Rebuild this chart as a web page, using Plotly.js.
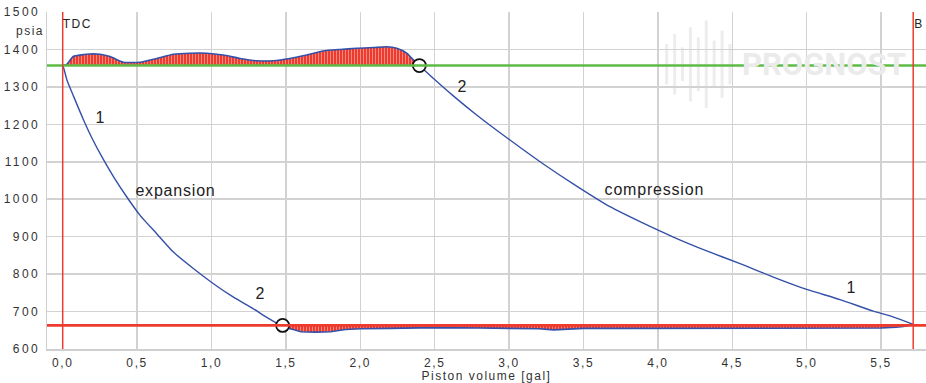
<!DOCTYPE html>
<html>
<head>
<meta charset="utf-8">
<script src="https://cdn.plot.ly/plotly-3.0.1.min.js"></script>
<style>
html,body{margin:0;padding:0;background:#fff}
#chart{width:926px;height:383px}
.xtitle { letter-spacing: 1.5px; }
</style>
</head>
<body>
<div id="chart"></div>
<script>
// Reference pressures (psia) and dead centres (gal)
const dischargePressure = 1357;
const suctionPressure = 663;
const tdcVolume = 0;
const bdcVolume = 5.716;

// Expansion stroke (TDC -> suction valve opening)
const expX = [0, 0.007, 0.029, 0.074, 0.141, 0.197, 0.275, 0.342, 0.431, 0.52, 0.632, 0.744, 0.878, 1.011, 1.145, 1.279, 1.369, 1.447, 1.478];
const expY = [1357, 1350, 1318, 1274, 1211, 1163, 1105, 1060, 1006, 957, 908, 859, 815, 775, 739, 708, 685, 667, 663];

// Suction stroke (below suction line)
const sucX = [1.478, 1.52, 1.55, 1.6, 1.7, 1.8, 1.9, 2.0, 2.2, 2.5, 2.8, 3.0, 3.2, 3.3, 3.4, 3.5, 3.8, 4.0, 4.3, 4.5, 4.8, 5.0, 5.3, 5.5, 5.6, 5.65, 5.716];
const sucY = [663, 655, 652, 646, 645, 646, 652, 654, 655, 657, 656, 655, 654, 651, 654, 655, 655, 655, 654, 654, 655, 655, 655, 656, 658, 660, 665];

// Compression stroke (BDC -> discharge valve opening)
const compX = [5.716, 5.58, 5.448, 5.224, 5.0, 4.776, 4.552, 4.328, 4.104, 3.88, 3.678, 3.454, 3.23, 3.006, 2.782, 2.625, 2.49, 2.397];
const compY = [666, 686, 701, 732, 759, 792, 828, 862, 899, 940, 980, 1035, 1094, 1158, 1225, 1276, 1323, 1357];

// Discharge stroke (above discharge line)
const disX = [0, 0.027, 0.071, 0.183, 0.251, 0.318, 0.407, 0.52, 0.632, 0.744, 0.857, 0.968, 1.079, 1.192, 1.304, 1.415, 1.528, 1.64, 1.751, 1.864, 1.976, 2.087, 2.177, 2.245, 2.312, 2.356, 2.397];
const disY = [1357, 1360, 1381, 1388, 1387, 1381, 1366, 1366, 1376, 1387, 1390, 1390, 1385, 1376, 1370, 1370, 1376, 1385, 1396, 1400, 1403, 1405, 1407, 1403, 1390, 1372, 1357];

// Valve event markers
const markerX = [1.478, 2.397];
const markerY = [663, 1357];

// Axis ticks
const xTicks = [0, 0.5, 1, 1.5, 2, 2.5, 3, 3.5, 4, 4.5, 5, 5.5];
const xTickText = ["0,0", "0,5", "1,0", "1,5", "2,0", "2,5", "3,0", "3,5", "4,0", "4,5", "5,0", "5,5"];
const yTicks = [600, 700, 800, 900, 1000, 1100, 1200, 1300, 1400, 1500];

const blue = '#3450a8';
const fillPat = {shape: '|', bgcolor: '#ee3b2f', fgcolor: '#f58a80', size: 3, solidity: 0.35, fillmode: 'replace'};

const traces = [
  {x: [disX[0], disX[disX.length-1]], y: [dischargePressure, dischargePressure], mode: 'lines', line: {width: 0}, hoverinfo: 'skip', showlegend: false},
  {x: disX, y: disY, mode: 'lines', fill: 'tonexty', fillcolor: '#ee3b2f', fillpattern: fillPat, line: {color: blue, width: 1.6, shape: 'spline', smoothing: 0.5}, showlegend: false},
  {x: [sucX[0], sucX[sucX.length-1]], y: [suctionPressure, suctionPressure], mode: 'lines', line: {width: 0}, hoverinfo: 'skip', showlegend: false},
  {x: sucX, y: sucY, mode: 'lines', fill: 'tonexty', fillcolor: '#ee3b2f', fillpattern: fillPat, line: {color: blue, width: 1.6}, showlegend: false},
  {x: expX, y: expY, mode: 'lines', line: {color: blue, width: 1.4, shape: 'spline', smoothing: 0.6}, showlegend: false},
  {x: compX, y: compY, mode: 'lines', line: {color: blue, width: 1.4, shape: 'spline', smoothing: 0.6}, showlegend: false}
];

const markerTrace = {x: markerX, y: markerY, mode: 'markers', marker: {size: 13, color: '#ffffff', line: {color: '#111', width: 1.8}}, showlegend: false, cliponaxis: false};

// Watermark logo bars (decoration, paper coords)
const logoShapes = [];
const barH = [0.06, 0.09, 0.05, 0.11, 0.08, 0.13, 0.07, 0.10, 0.06];
for (let i = 0; i < barH.length; i++) {
  const xp = 0.705 + i * 0.009;
  logoShapes.push({type: 'line', xref: 'paper', yref: 'paper', x0: xp, x1: xp, y0: 0.845 - barH[i], y1: 0.845 + barH[i], line: {color: '#ededed', width: 3}, layer: 'below'});
}

const layout = {
  width: 926, height: 383,
  margin: {l: 47, r: 0, t: 12, b: 34},
  paper_bgcolor: '#ffffff', plot_bgcolor: '#ffffff',
  font: {family: 'Liberation Sans, Arial, sans-serif', size: 12, color: '#333'},
  xaxis: {
    range: [-0.1055, 5.802], tickvals: xTicks, ticktext: xTickText,
    showgrid: true, gridcolor: '#d2d2d2', gridwidth: 1.5, zeroline: false,
    showline: true, linecolor: '#cfcfcf', linewidth: 1.5, ticks: '', ticklabelstandoff: 2,
    tickfont: {size: 12, color: '#333'},
    title: {text: 'Piston volume [gal]', font: {size: 12, color: '#333'}, standoff: 0}
  },
  yaxis: {
    range: [600, 1500], tickvals: yTicks,
    showgrid: true, gridcolor: '#d2d2d2', gridwidth: 1.5, zeroline: false,
    showline: true, linecolor: '#cfcfcf', linewidth: 1.5, ticks: '', ticklabelstandoff: 3,
    tickfont: {size: 12, color: '#333'}
  },
  shapes: logoShapes.concat([
    {type: 'line', xref: 'paper', yref: 'y', x0: 0, x1: 1, y0: dischargePressure, y1: dischargePressure, line: {color: '#5dbb46', width: 2.5}},
    {type: 'line', xref: 'paper', yref: 'y', x0: 0, x1: 1, y0: suctionPressure, y1: suctionPressure, line: {color: '#ee3b2f', width: 2.8}},
    {type: 'line', xref: 'x', yref: 'paper', x0: tdcVolume, x1: tdcVolume, y0: 0, y1: 1, line: {color: '#ee3b2f', width: 1.5}},
    {type: 'line', xref: 'x', yref: 'paper', x0: bdcVolume, x1: bdcVolume, y0: 0, y1: 1, line: {color: '#ee3b2f', width: 1.5}}
  ]),
  annotations: [
    {text: 'psia', xref: 'paper', yref: 'paper', x: -0.004, y: 0.945, xanchor: 'right', yanchor: 'middle', showarrow: false, font: {size: 12, color: '#333'}},
    {text: 'TDC', xref: 'x', yref: 'paper', x: tdcVolume, y: 0.99, xanchor: 'left', yanchor: 'top', xshift: 0, showarrow: false, font: {size: 12, color: '#222'}},
    {text: 'B', xref: 'x', yref: 'paper', x: bdcVolume, y: 0.99, xanchor: 'left', yanchor: 'top', xshift: 0, showarrow: false, font: {size: 12, color: '#222'}},
    {text: 'PROGNOST', xref: 'paper', yref: 'paper', x: 0.98, y: 0.845, xanchor: 'right', yanchor: 'middle', showarrow: false, font: {family: 'Roboto, Liberation Sans, sans-serif', size: 31, color: '#ebebeb', weight: 'bold'}},
    {text: '1', x: 0.251, y: 1217, showarrow: false, font: {size: 16, color: '#222'}},
    {text: '2', x: 1.326, y: 749, showarrow: false, font: {size: 16, color: '#222'}},
    {text: 'expansion', x: 0.761, y: 1024, showarrow: false, font: {size: 16, color: '#222'}},
    {text: '2', x: 2.69, y: 1300, showarrow: false, font: {size: 16, color: '#222'}},
    {text: 'compression', x: 3.98, y: 1027, showarrow: false, font: {size: 16, color: '#222'}},
    {text: '1', x: 5.30, y: 765, showarrow: false, font: {size: 16, color: '#222'}}
  ]
};

Plotly.newPlot('chart', traces.concat([markerTrace]), layout, {staticPlot: true, displayModeBar: false}).then(function (gd) {
  gd.querySelectorAll('.ytick text').forEach(function (t) { t.style.letterSpacing = '2.4px'; });
  gd.querySelectorAll('.xtick text').forEach(function (t) { t.style.letterSpacing = '1.6px'; });
  gd.querySelectorAll('.annotation-text').forEach(function (t) {
    const s = t.textContent;
    if (s === 'TDC' || s === 'B' || s === 'psia') t.style.letterSpacing = '1.5px';
    else if (s !== 'PROGNOST') t.style.letterSpacing = '0.8px';
  });
});
</script>
</body>
</html>
